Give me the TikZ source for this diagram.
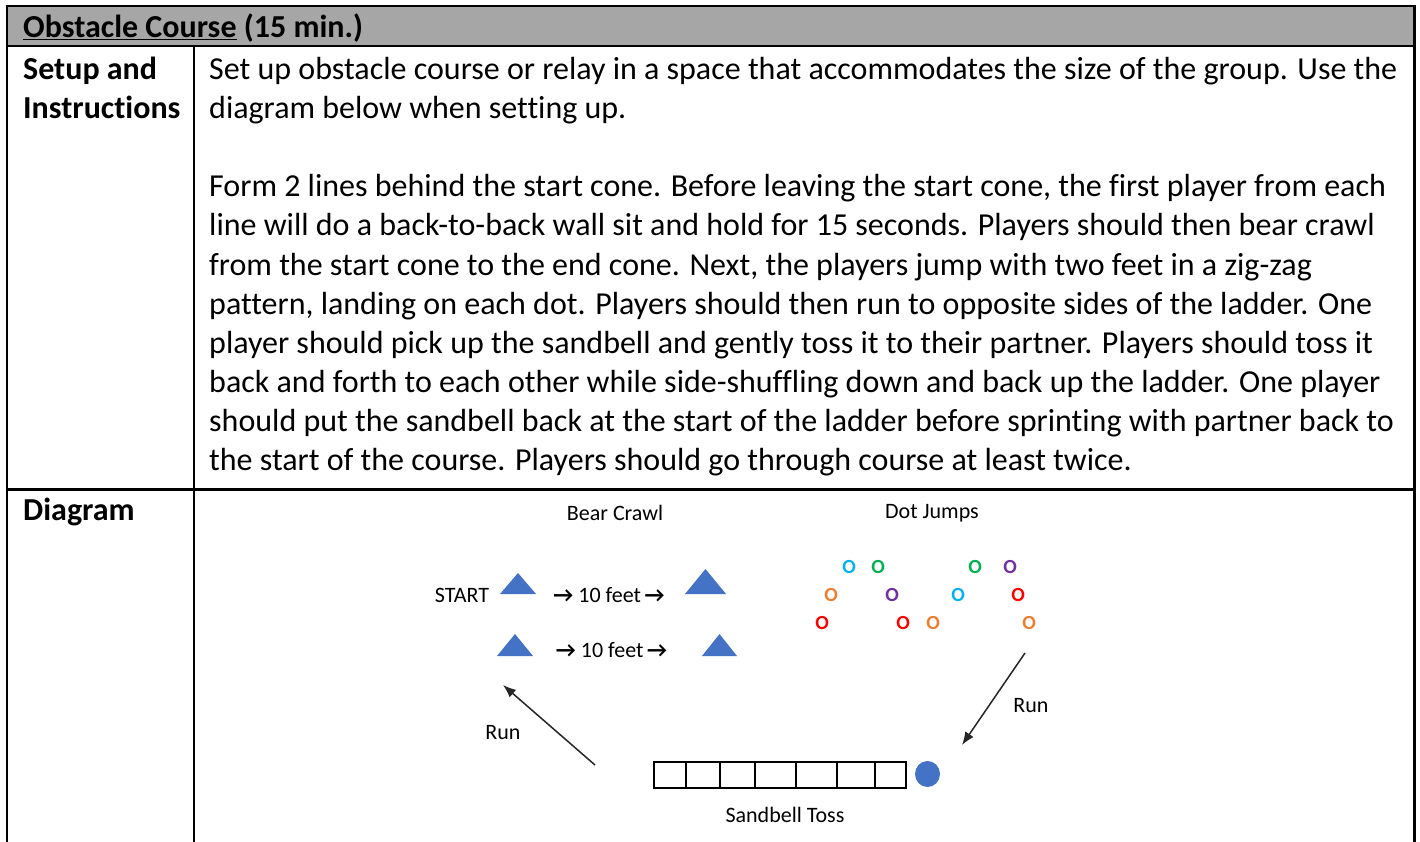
\documentclass[tikz,border=0pt]{standalone}
\usepackage{fontspec}
\setmainfont{Carlito}[Ligatures=CommonOff]
\usetikzlibrary{arrows.meta}
\definecolor{hdrgray}{HTML}{A6A6A6}
\definecolor{coneblue}{HTML}{4472C4}
\definecolor{dcyan}{HTML}{00B0F0}
\definecolor{dgreen}{HTML}{00B050}
\definecolor{dpurple}{HTML}{7030A0}
\definecolor{dorange}{HTML}{ED7D31}
\definecolor{dred}{HTML}{FF0000}
\newcommand{\myarr}{\textbf{→}}
\begin{document}
\begin{tikzpicture}[x=1pt,y=-1pt,
  rule/.style={line width=2.3pt,black},
  body/.style={anchor=base west,inner sep=0pt,font=\fontsize{32}{39}\selectfont},
  lbl/.style={anchor=base west,inner sep=0pt,font=\fontsize{32}{39}\selectfont\bfseries},
  small/.style={inner sep=0pt,font=\fontsize{22}{26}\selectfont,text=black},
  dot/.style={inner sep=0pt,font=\fontsize{20}{24}\selectfont\bfseries},
  cone/.style={fill=coneblue,draw=none},
  runarrow/.style={line width=1.5pt,black!85,-{Latex[length=13pt,width=10pt]}},
  ladder/.style={line width=1.5pt,black}]
\useasboundingbox (0,0) rectangle (1420,842);
\fill[white] (0,0) rectangle (1420,842);
% table
\fill[hdrgray] (7,6) rectangle (1414.5,46);
\draw[rule] (7,842) -- (7,6) -- (1414.5,6) -- (1414.5,842);
\draw[rule] (7,46) -- (1414.5,46);
\draw[rule] (7,489.5) -- (1414.5,489.5);
\draw[rule] (194,46) -- (194,842);
% header
\node[lbl] (title) at (23,38) {\underline{Obstacle Course} (15 min.)};
\node[lbl] (setup1) at (23,80) {Setup and};
\node[lbl] (setup2) at (23,119) {Instructions};
\node[lbl] (diag) at (23,520) {Diagram};
% body text
\node[body] (l1) at (209,80) {Set up obstacle course or relay in a space that accommodates the size of the group. Use the};
\node[body] (l2) at (209,119) {diagram below when setting up.};
\node[body] (l4) at (209,197) {Form 2 lines behind the start cone. Before leaving the start cone, the first player from each};
\node[body] (l5) at (209,236) {line will do a back-to-back wall sit and hold for 15 seconds. Players should then bear crawl};
\node[body] (l6) at (209,275) {from the start cone to the end cone. Next, the players jump with two feet in a zig-zag};
\node[body] (l7) at (209,314) {pattern, landing on each dot. Players should then run to opposite sides of the ladder. One};
\node[body] (l8) at (209,353) {player should pick up the sandbell and gently toss it to their partner. Players should toss it};
\node[body] (l9) at (209,392) {back and forth to each other while side-shuffling down and back up the ladder. One player};
\node[body] (l10) at (209,431) {should put the sandbell back at the start of the ladder before sprinting with partner back to};
\node[body] (l11) at (209,470) {the start of the course. Players should go through course at least twice.};
% diagram labels
\node[small] (bear) at (615,513) {Bear Crawl};
\node[small] (dotj) at (932,513) {Dot Jumps};
\node[small] (start) at (462,595) {START};
\node[small] (feet1) at (609,595) {\myarr\ 10 feet\,\myarr};
\node[small] (feet2) at (611.5,650) {\myarr\ 10 feet\,\myarr};
\node[small] (runl) at (503,733) {Run};
\node[small] (runr) at (1031,706) {Run};
\node[small] (toss) at (785,815) {Sandbell Toss};
% cones
\fill[cone] (500,594) -- (518,573) -- (536,594) -- cycle;
\fill[cone] (685,594) -- (705.5,569) -- (726,594) -- cycle;
\fill[cone] (497,656) -- (515,634) -- (533,656) -- cycle;
\fill[cone] (702,656) -- (719.5,634) -- (737,656) -- cycle;
% dots
\node[dot,text=dcyan] (d1) at (849,567) {O};
\node[dot,text=dgreen] (d2) at (878,567) {O};
\node[dot,text=dgreen] (d3) at (975,567) {O};
\node[dot,text=dpurple] (d4) at (1010,567) {O};
\node[dot,text=dorange] (d5) at (831,595) {O};
\node[dot,text=dpurple] (d6) at (892,595) {O};
\node[dot,text=dcyan] (d7) at (958,595) {O};
\node[dot,text=dred] (d8) at (1018,595) {O};
\node[dot,text=dred] (d9) at (822,623) {O};
\node[dot,text=dred] (d10) at (903,623) {O};
\node[dot,text=dorange] (d11) at (933,623) {O};
\node[dot,text=dorange] (d12) at (1029,623) {O};
% ladder
\draw[ladder] (654,762) rectangle (906,788);
\foreach \x in {686,720,755,796,837,875} \draw[ladder] (\x,762) -- (\x,788);
\fill[coneblue] (927.5,774) ellipse (12.5 and 13);
% run arrows
\coordinate (la) at (595,765);
\coordinate (lb) at (503,685);
\coordinate (ra) at (1025,653);
\coordinate (rb) at (962,745);
\draw[runarrow] (la) -- (lb);
\draw[runarrow] (ra) -- (rb);
\end{tikzpicture}
\end{document}
